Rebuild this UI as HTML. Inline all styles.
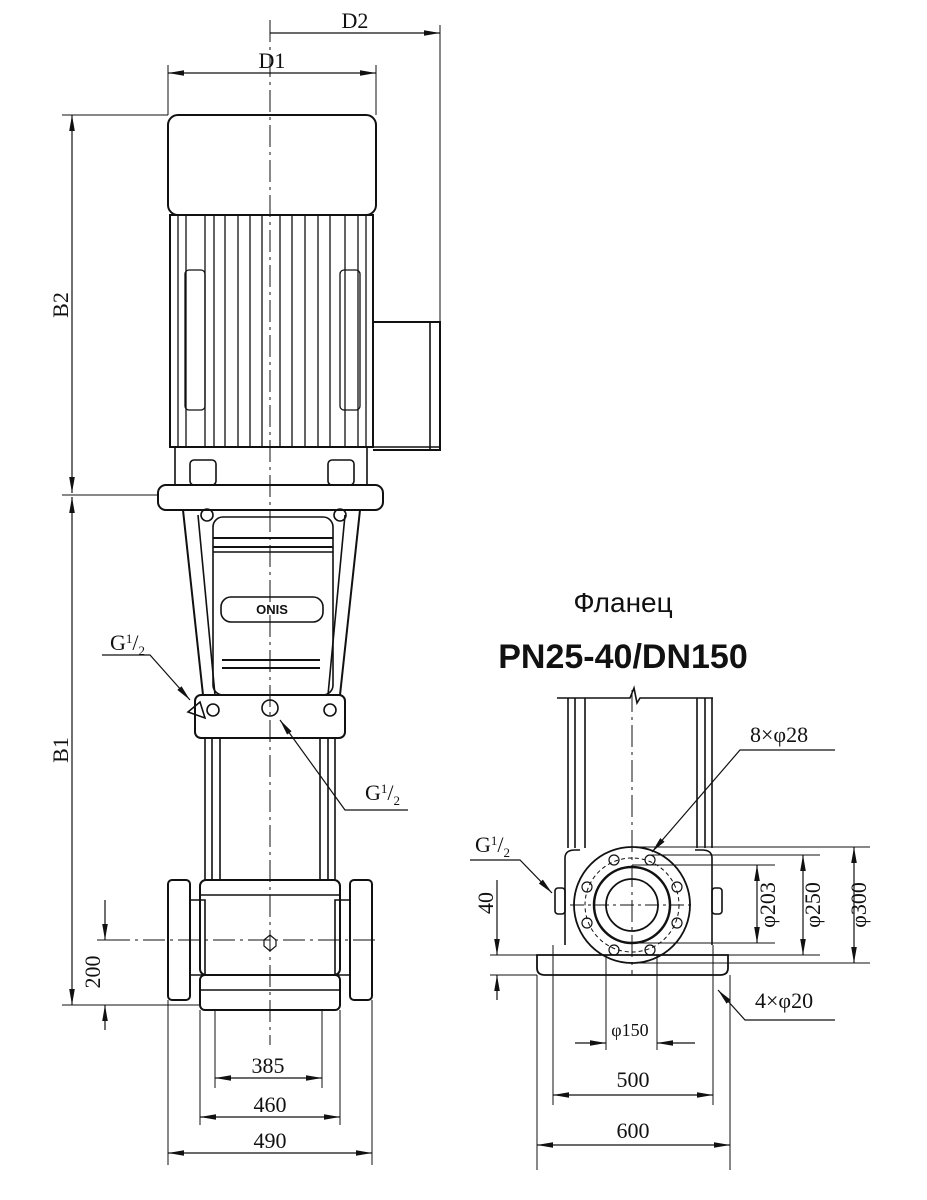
<!DOCTYPE html>
<html><head><meta charset="utf-8"><style>body{margin:0;background:#fff}svg{display:block}</style></head><body>
<svg width="927" height="1200" viewBox="0 0 927 1200" xmlns="http://www.w3.org/2000/svg" font-family="Liberation Serif, serif" fill="none" stroke="#111" stroke-width="1.6">
<defs><marker id="a" viewBox="0 0 16 8" refX="16" refY="4" markerUnits="userSpaceOnUse" markerWidth="16" markerHeight="8" orient="auto-start-reverse"><path d="M0,1.2L16,4L0,6.8z" fill="#111" stroke="none"/></marker></defs>
<line x1="270" y1="20" x2="270" y2="1045" stroke-width="1" stroke-dasharray="22,5,3,5"/>
<rect x="168" y="115" width="208" height="100" rx="10" stroke-width="2"/>
<rect x="170" y="215" width="203" height="232" stroke-width="2"/>
<g stroke-width="1.3">
<line x1="178" y1="215" x2="178" y2="447"/><line x1="186" y1="215" x2="186" y2="447"/><line x1="205" y1="215" x2="205" y2="447"/><line x1="214" y1="215" x2="214" y2="447"/><line x1="225" y1="215" x2="225" y2="447"/><line x1="238" y1="215" x2="238" y2="447"/><line x1="250" y1="215" x2="250" y2="447"/><line x1="262" y1="215" x2="262" y2="447"/><line x1="280" y1="215" x2="280" y2="447"/><line x1="292" y1="215" x2="292" y2="447"/><line x1="305" y1="215" x2="305" y2="447"/><line x1="318" y1="215" x2="318" y2="447"/><line x1="330" y1="215" x2="330" y2="447"/><line x1="345" y1="215" x2="345" y2="447"/><line x1="358" y1="215" x2="358" y2="447"/><line x1="366" y1="215" x2="366" y2="447"/>
<rect x="185" y="270" width="20" height="140" rx="4"/><rect x="340" y="270" width="20" height="140" rx="4"/>
</g>
<path d="M373,322 H440 V450 H373" stroke-width="2"/><line x1="430" y1="322" x2="430" y2="450"/>
<line x1="170" y1="447" x2="440" y2="447"/>
<path d="M175,447 V485 M367,447 V485"/>
<rect x="190" y="460" width="26" height="25" rx="4"/><rect x="328" y="460" width="26" height="25" rx="4"/>
<rect x="158" y="485" width="225" height="25" rx="8" stroke-width="2"/>
<path d="M183,510 L203,695 M360,510 L340,695" stroke-width="2"/>
<path d="M198,515 L215,695 M345,515 L328,695"/>
<rect x="213" y="517" width="120" height="178" rx="10"/>
<line x1="213" y1="538" x2="333" y2="538" stroke-width="2"/><line x1="213" y1="547" x2="333" y2="547" stroke-width="2"/><line x1="213" y1="552" x2="333" y2="552"/>
<line x1="222" y1="660" x2="320" y2="660" stroke-width="2"/><line x1="222" y1="668" x2="320" y2="668" stroke-width="2"/>
<rect x="221" y="597" width="102" height="25" rx="10"/>
<text x="272" y="614" font-family="Liberation Sans,sans-serif" font-weight="bold" font-size="13" fill="#111" stroke="none" text-anchor="middle">ONIS</text>
<circle cx="207" cy="515" r="6"/><circle cx="340" cy="515" r="6"/>
<rect x="195" y="695" width="150" height="43" rx="6" stroke-width="2"/>
<circle cx="270" cy="708" r="8"/>
<circle cx="213" cy="710" r="6"/><circle cx="330" cy="710" r="6"/>
<path d="M188,712 L200,702 L205,718 Z"/>
<path d="M205,738 V880 M212,738 V880 M220,738 V880 M335,738 V880 M328,738 V880 M320,738 V880"/>
<rect x="200" y="880" width="140" height="95" rx="6" stroke-width="2"/>
<line x1="200" y1="895" x2="340" y2="895"/>
<rect x="168" y="880" width="22" height="120" rx="4" stroke-width="2"/><rect x="350" y="880" width="22" height="120" rx="4" stroke-width="2"/>
<path d="M190,900 H205 V975 H190 M350,900 H335 V975 H350"/>
<rect x="200" y="975" width="140" height="35" rx="5" stroke-width="2"/>
<line x1="200" y1="990" x2="340" y2="990"/>
<polygon points="264,940 270,935 276,940 276,946 270,951 264,946" stroke-width="1.2"/>
<line x1="108" y1="940" x2="380" y2="940" stroke-width="1" stroke-dasharray="22,5,3,5"/>
<g stroke-width="1">
<line x1="168" y1="65" x2="168" y2="115"/><line x1="376" y1="65" x2="376" y2="115"/><line x1="440" y1="25" x2="440" y2="322"/>
<line x1="62" y1="115" x2="168" y2="115"/><line x1="62" y1="495" x2="158" y2="495"/><line x1="62" y1="1005" x2="200" y2="1005"/>
<line x1="97" y1="940" x2="120" y2="940"/>
<line x1="215" y1="1010" x2="215" y2="1088"/><line x1="322" y1="1010" x2="322" y2="1088"/>
<line x1="200" y1="1010" x2="200" y2="1125"/><line x1="340" y1="1010" x2="340" y2="1125"/>
<line x1="168" y1="1000" x2="168" y2="1165"/><line x1="372" y1="1000" x2="372" y2="1165"/>
</g>
<g stroke-width="1.2">
<line x1="270" y1="33" x2="440" y2="33" marker-end="url(#a)"/>
<line x1="168" y1="73" x2="376" y2="73" marker-start="url(#a)" marker-end="url(#a)"/>
<line x1="72" y1="115" x2="72" y2="493" marker-start="url(#a)" marker-end="url(#a)"/>
<line x1="72" y1="497" x2="72" y2="1005" marker-start="url(#a)" marker-end="url(#a)"/>
<line x1="105" y1="900" x2="105" y2="940" marker-end="url(#a)"/>
<line x1="105" y1="1030" x2="105" y2="1005" marker-end="url(#a)"/>
<line x1="215" y1="1078" x2="322" y2="1078" marker-start="url(#a)" marker-end="url(#a)"/>
<line x1="200" y1="1117" x2="340" y2="1117" marker-start="url(#a)" marker-end="url(#a)"/>
<line x1="168" y1="1153" x2="372" y2="1153" marker-start="url(#a)" marker-end="url(#a)"/>
<polyline points="102,655 150,655 190,700" marker-end="url(#a)"/>
<polyline points="408,810 345,810 280,720" marker-end="url(#a)"/>
</g>
<g fill="#111" stroke="none" font-size="22">
<text x="355" y="28" text-anchor="middle">D2</text>
<text x="272" y="68" text-anchor="middle">D1</text>
<text x="68" y="305" transform="rotate(-90 68 305)" text-anchor="middle">B2</text>
<text x="68" y="750" transform="rotate(-90 68 750)" text-anchor="middle">B1</text>
<text x="100" y="972" transform="rotate(-90 100 972)" text-anchor="middle">200</text>
<text x="268" y="1073" text-anchor="middle">385</text>
<text x="270" y="1112" text-anchor="middle">460</text>
<text x="270" y="1148" text-anchor="middle">490</text>
<text x="110" y="650">G<tspan font-size="13" dy="-7">1</tspan><tspan dy="7">/</tspan><tspan font-size="13" dy="5">2</tspan></text>
<text x="365" y="800">G<tspan font-size="13" dy="-7">1</tspan><tspan dy="7">/</tspan><tspan font-size="13" dy="5">2</tspan></text>
<text x="475" y="852">G<tspan font-size="13" dy="-7">1</tspan><tspan dy="7">/</tspan><tspan font-size="13" dy="5">2</tspan></text>
<text x="750" y="742">8×φ28</text>
<text x="755" y="1008">4×φ20</text>
<text x="493" y="903" transform="rotate(-90 493 903)" text-anchor="middle">40</text>
<text x="775" y="905" transform="rotate(-90 775 905)" text-anchor="middle">φ203</text>
<text x="820" y="905" transform="rotate(-90 820 905)" text-anchor="middle">φ250</text>
<text x="866" y="905" transform="rotate(-90 866 905)" text-anchor="middle">φ300</text>
<text x="630" y="1036" text-anchor="middle" font-size="18">φ150</text>
<text x="633" y="1087" text-anchor="middle">500</text>
<text x="633" y="1138" text-anchor="middle">600</text>
<text x="623" y="612" text-anchor="middle" font-family="Liberation Sans,sans-serif" font-size="28">Фланец</text>
<text x="623" y="668" text-anchor="middle" font-family="Liberation Sans,sans-serif" font-weight="bold" font-size="34">PN25-40/DN150</text>
</g>
<path d="M557,698 H630 L634,688 L637,703 L640,698 H713"/>
<path d="M568,698 V848 M575,698 V848 M585,698 V848 M697,698 V848 M705,698 V848 M712,698 V848"/>
<line x1="632" y1="690" x2="632" y2="975" stroke-width="1" stroke-dasharray="22,5,3,5"/>
<path d="M565,945 V858 Q565,850 575,850 H580 M712,945 V858 Q712,850 702,850 H695"/>
<rect x="555" y="888" width="10" height="26" rx="3"/><rect x="712" y="888" width="10" height="26" rx="3"/>
<circle cx="632" cy="905" r="58" stroke-width="1.8"/>
<circle cx="632" cy="905" r="38" stroke-width="2.5"/>
<circle cx="632" cy="905" r="26" stroke-width="1.8"/>
<circle cx="632" cy="905" r="47" stroke-width="1" stroke-dasharray="4,3"/>
<g stroke-width="1.2">
<circle cx="614" cy="860" r="5"/><circle cx="650" cy="860" r="5"/><circle cx="677" cy="887" r="5"/><circle cx="677" cy="923" r="5"/><circle cx="650" cy="950" r="5"/><circle cx="614" cy="950" r="5"/><circle cx="587" cy="923" r="5"/><circle cx="587" cy="887" r="5"/>
</g>
<line x1="570" y1="905" x2="695" y2="905" stroke-width="1" stroke-dasharray="14,4,3,4"/>
<path d="M537,955 H728 V968 Q728,975 720,975 H545 Q537,975 537,968 Z" stroke-width="1.8"/>
<g stroke-width="1">
<line x1="553" y1="945" x2="553" y2="1105"/><line x1="713" y1="945" x2="713" y2="1105"/>
<line x1="537" y1="975" x2="537" y2="1170"/><line x1="730" y1="975" x2="730" y2="1170"/>
<line x1="606" y1="955" x2="606" y2="1050"/><line x1="657" y1="955" x2="657" y2="1050"/>
<line x1="490" y1="955" x2="537" y2="955"/><line x1="490" y1="975" x2="537" y2="975"/>
<line x1="632" y1="847" x2="870" y2="847"/><line x1="632" y1="963" x2="870" y2="963"/>
<line x1="650" y1="855" x2="820" y2="855"/><line x1="650" y1="955" x2="820" y2="955"/>
<line x1="632" y1="865" x2="775" y2="865"/><line x1="632" y1="943" x2="775" y2="943"/>
</g>
<g stroke-width="1.2">
<line x1="757" y1="865" x2="757" y2="943" marker-start="url(#a)" marker-end="url(#a)"/>
<line x1="803" y1="855" x2="803" y2="955" marker-start="url(#a)" marker-end="url(#a)"/>
<line x1="854" y1="847" x2="854" y2="963" marker-start="url(#a)" marker-end="url(#a)"/>
<line x1="497" y1="880" x2="497" y2="955" marker-end="url(#a)"/>
<line x1="497" y1="1000" x2="497" y2="975" marker-end="url(#a)"/>
<line x1="553" y1="1095" x2="713" y2="1095" marker-start="url(#a)" marker-end="url(#a)"/>
<line x1="537" y1="1145" x2="730" y2="1145" marker-start="url(#a)" marker-end="url(#a)"/>
<line x1="575" y1="1043" x2="606" y2="1043" marker-end="url(#a)"/>
<line x1="695" y1="1043" x2="657" y2="1043" marker-end="url(#a)"/>
<polyline points="835,750 740,750 652,852" marker-end="url(#a)"/>
<polyline points="470,860 520,860 552,893" marker-end="url(#a)"/>
<polyline points="835,1020 745,1020 718,990" marker-end="url(#a)"/>
</g>
</svg>
</body></html>
